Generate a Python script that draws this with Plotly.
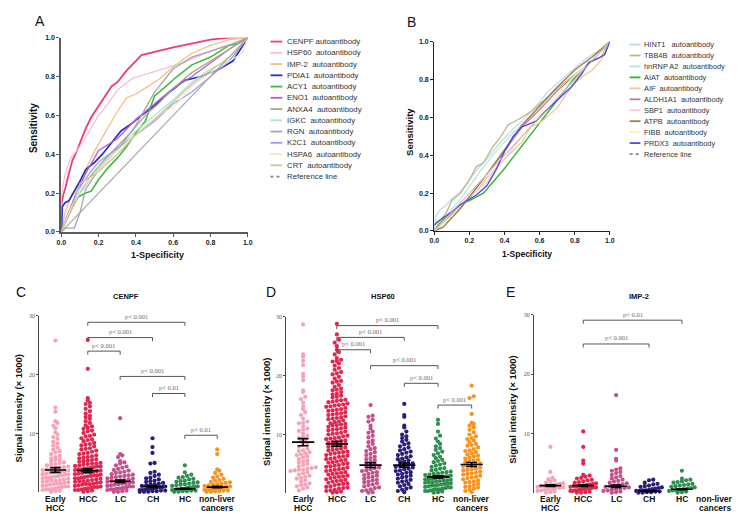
import plotly.graph_objects as go

W, H = 745, 514

# ---------------- ROC data, panel A ----------------
A_names = ["CENPF autoantibody", "HSP60  autoantibody", "IMP-2  autoantibody", "PDIA1  autoantibody",
           "ACY1  autoantibody", "ENO1  autoantibody", "ANXA4  autoantibody", "IGKC  autoantibody",
           "RGN  autoantibody", "K2C1  autoantibody", "HSPA6  autoantibody", "CRT  autoantibody"]
A_colors = ["#EE3B80", "#F9BDD9", "#F7BF88", "#2435C8", "#3DBB3D", "#B75BE0", "#AAA783",
            "#A9E3D9", "#A6A6A6", "#9C9CEE", "#FBE2C6", "#CBCB8E"]
A_widths = [1.8, 1.3, 1.3, 1.8, 1.6, 1.3, 1.3, 1.2, 1.3, 1.2, 1.2, 1.2]

cenpf_x = [0, 0, 0.01, 0.02, 0.04, 0.06, 0.08, 0.1, 0.13, 0.16, 0.2, 0.24, 0.27, 0.3, 0.35, 0.43, 0.6, 0.8, 0.9, 1.0]
cenpf_y = [0, 0.14, 0.19, 0.22, 0.3, 0.37, 0.41, 0.46, 0.53, 0.59, 0.65, 0.71, 0.75, 0.77, 0.83, 0.91, 0.95, 0.99, 1.0, 1.0]
hsp60_x = [0, 0, 0.02, 0.05, 0.1, 0.15, 0.2, 0.25, 0.3, 0.38, 0.45, 0.55, 0.65, 0.75, 0.85, 0.95, 1.0]
hsp60_y = [0, 0.18, 0.3, 0.38, 0.44, 0.52, 0.6, 0.66, 0.73, 0.79, 0.81, 0.84, 0.87, 0.91, 0.95, 0.98, 1.0]
imp2_x = [0, 0.02, 0.05, 0.1, 0.13, 0.18, 0.25, 0.3, 0.35, 0.4, 0.45, 0.53, 0.6, 0.7, 0.8, 0.9, 1.0]
imp2_y = [0, 0.1, 0.18, 0.27, 0.32, 0.42, 0.54, 0.62, 0.69, 0.71, 0.74, 0.79, 0.85, 0.92, 0.96, 0.99, 1.0]
pdia1_x = [0, 0.005, 0.02, 0.04, 0.07, 0.1, 0.13, 0.18, 0.22, 0.27, 0.32, 0.38, 0.43, 0.5, 0.58, 0.66, 0.75, 0.85, 0.92, 1.0]
pdia1_y = [0, 0.13, 0.15, 0.16, 0.21, 0.26, 0.32, 0.36, 0.4, 0.46, 0.52, 0.56, 0.6, 0.65, 0.72, 0.78, 0.8, 0.84, 0.88, 1.0]
acy1_x = [0, 0.02, 0.05, 0.09, 0.13, 0.16, 0.2, 0.25, 0.3, 0.35, 0.4, 0.45, 0.5, 0.55, 0.62, 0.7, 0.8, 0.9, 0.95, 1.0]
acy1_y = [0, 0.05, 0.12, 0.18, 0.2, 0.21, 0.27, 0.33, 0.38, 0.44, 0.51, 0.57, 0.7, 0.74, 0.8, 0.86, 0.9, 0.96, 0.97, 1.0]
eno1_x = [0, 0.03, 0.08, 0.13, 0.2, 0.25, 0.3, 0.35, 0.4, 0.5, 0.6, 0.7, 0.8, 0.9, 1.0]
eno1_y = [0, 0.08, 0.2, 0.3, 0.42, 0.45, 0.48, 0.53, 0.58, 0.66, 0.74, 0.8, 0.87, 0.94, 1.0]
anxa4_x = [0, 0.03, 0.1, 0.15, 0.22, 0.3, 0.38, 0.45, 0.52, 0.6, 0.7, 0.8, 0.9, 1.0]
anxa4_y = [0, 0.07, 0.2, 0.28, 0.36, 0.44, 0.52, 0.6, 0.66, 0.74, 0.82, 0.88, 0.94, 1.0]
igkc_x = [0, 0.05, 0.1, 0.2, 0.3, 0.4, 0.5, 0.6, 0.7, 0.8, 0.9, 1.0]
igkc_y = [0, 0.12, 0.2, 0.33, 0.43, 0.52, 0.6, 0.68, 0.77, 0.84, 0.88, 1.0]
rgn_x = [0, 0.02, 0.07, 0.1, 0.13, 0.2, 0.3, 0.4, 0.5, 0.6, 0.7, 0.8, 0.9, 1.0]
rgn_y = [0, 0.02, 0.02, 0.1, 0.22, 0.32, 0.42, 0.55, 0.72, 0.84, 0.9, 0.93, 0.96, 1.0]
k2c1_x = [0, 0.04, 0.1, 0.15, 0.2, 0.3, 0.4, 0.5, 0.6, 0.7, 0.8, 0.9, 1.0]
k2c1_y = [0, 0.1, 0.23, 0.3, 0.36, 0.43, 0.5, 0.57, 0.66, 0.72, 0.8, 0.88, 1.0]
hspa6_x = [0, 0.05, 0.1, 0.2, 0.3, 0.4, 0.5, 0.55, 0.6, 0.7, 0.8, 0.9, 0.97, 1.0]
hspa6_y = [0, 0.12, 0.22, 0.32, 0.42, 0.5, 0.58, 0.62, 0.64, 0.75, 0.82, 0.88, 0.92, 1.0]
crt_x = [0, 0.05, 0.1, 0.15, 0.2, 0.3, 0.4, 0.5, 0.6, 0.7, 0.8, 0.9, 1.0]
crt_y = [0, 0.1, 0.25, 0.28, 0.31, 0.4, 0.5, 0.58, 0.67, 0.76, 0.83, 0.9, 1.0]
A_curves = [(cenpf_x, cenpf_y), (hsp60_x, hsp60_y), (imp2_x, imp2_y), (pdia1_x, pdia1_y),
            (acy1_x, acy1_y), (eno1_x, eno1_y), (anxa4_x, anxa4_y), (igkc_x, igkc_y),
            (rgn_x, rgn_y), (k2c1_x, k2c1_y), (hspa6_x, hspa6_y), (crt_x, crt_y)]

ref_x = [0, 1]
ref_y = [0, 1]

# ---------------- ROC data, panel B ----------------
B_names = ["HINT1\u00a0\u00a0 autoantibody", "TBB4B  autoantibody", "hnRNP A2  autoantibody", "AIAT  autoantibody",
           "AIF  autoantibody", "ALDH1A1  autoantibody", "SBP1  autoantibody", "ATPB  autoantibody",
           "FIBB  autoantibody", "PRDX3  autoantibody"]
B_colors = ["#BBD9F0", "#C4B585", "#B5E8D8", "#33B533", "#F8C190", "#C67A98", "#F7C9E0", "#A27A52",
            "#F6F0C4", "#4F4FE0"]
B_widths = [1.2, 1.3, 1.2, 1.4, 1.2, 1.2, 1.2, 1.4, 1.2, 1.4]

hint1_x = [0, 0.01, 0.03, 0.06, 0.1, 0.15, 0.2, 0.25, 0.3, 0.35, 0.4, 0.45, 0.5, 0.55, 0.6, 0.65, 0.7, 0.75, 0.8, 0.85, 0.9, 0.95, 1.0]
hint1_y = [0, 0.08, 0.11, 0.13, 0.17, 0.21, 0.27, 0.33, 0.38, 0.44, 0.49, 0.54, 0.58, 0.63, 0.68, 0.74, 0.78, 0.82, 0.86, 0.9, 0.93, 0.96, 1.0]
tbb4b_x = [0, 0.03, 0.07, 0.1, 0.15, 0.2, 0.24, 0.28, 0.33, 0.38, 0.42, 0.48, 0.55, 0.65, 0.75, 0.85, 0.9, 0.95, 1.0]
tbb4b_y = [0, 0.05, 0.1, 0.16, 0.2, 0.27, 0.34, 0.36, 0.44, 0.5, 0.56, 0.59, 0.63, 0.71, 0.79, 0.86, 0.9, 0.92, 1.0]
hnrnp_x = [0, 0.05, 0.15, 0.25, 0.35, 0.45, 0.55, 0.65, 0.75, 0.85, 0.95, 1.0]
hnrnp_y = [0, 0.06, 0.17, 0.3, 0.42, 0.52, 0.6, 0.7, 0.78, 0.86, 0.95, 1.0]
aiat_x = [0, 0.05, 0.1, 0.15, 0.2, 0.24, 0.28, 0.4, 0.5, 0.6, 0.7, 0.8, 0.9, 1.0]
aiat_y = [0, 0.06, 0.1, 0.14, 0.16, 0.18, 0.2, 0.33, 0.45, 0.57, 0.69, 0.81, 0.9, 1.0]
aif_x = [0, 0.05, 0.1, 0.2, 0.3, 0.4, 0.5, 0.55, 0.6, 0.65, 0.7, 0.75, 0.8, 0.85, 0.9, 0.95, 1.0]
aif_y = [0, 0.04, 0.08, 0.17, 0.28, 0.38, 0.47, 0.55, 0.57, 0.61, 0.65, 0.72, 0.78, 0.82, 0.85, 0.9, 1.0]
aldh_x = [0, 0.05, 0.1, 0.2, 0.3, 0.4, 0.5, 0.6, 0.7, 0.8, 0.9, 1.0]
aldh_y = [0, 0.04, 0.09, 0.18, 0.3, 0.42, 0.55, 0.64, 0.74, 0.82, 0.9, 1.0]
sbp1_x = [0, 0.1, 0.2, 0.3, 0.4, 0.5, 0.6, 0.7, 0.8, 0.9, 1.0]
sbp1_y = [0, 0.1, 0.18, 0.26, 0.38, 0.5, 0.6, 0.7, 0.8, 0.9, 1.0]
atpb_x = [0, 0.05, 0.1, 0.15, 0.2, 0.3, 0.4, 0.5, 0.6, 0.7, 0.8, 0.9, 1.0]
atpb_y = [0, 0.02, 0.07, 0.12, 0.18, 0.3, 0.43, 0.56, 0.66, 0.76, 0.85, 0.92, 1.0]
fibb_x = [0, 0.1, 0.2, 0.3, 0.4, 0.5, 0.6, 0.7, 0.8, 0.9, 1.0]
fibb_y = [0, 0.08, 0.2, 0.3, 0.4, 0.5, 0.62, 0.72, 0.82, 0.9, 1.0]
prdx3_x = [0, 0.02, 0.05, 0.08, 0.1, 0.15, 0.2, 0.24, 0.3, 0.35, 0.4, 0.45, 0.5, 0.58, 0.63, 0.7, 0.78, 0.84, 0.88, 0.93, 0.97, 1.0]
prdx3_y = [0.03, 0.05, 0.07, 0.09, 0.1, 0.14, 0.17, 0.19, 0.24, 0.32, 0.42, 0.5, 0.55, 0.58, 0.63, 0.69, 0.76, 0.83, 0.89, 0.91, 0.93, 1.0]
B_curves = [(hint1_x, hint1_y), (tbb4b_x, tbb4b_y), (hnrnp_x, hnrnp_y), (aiat_x, aiat_y),
            (aif_x, aif_y), (aldh_x, aldh_y), (sbp1_x, sbp1_y), (atpb_x, atpb_y),
            (fibb_x, fibb_y), (prdx3_x, prdx3_y)]

# ---------------- scatter dot data ----------------
groups = [("Early", "HCC"), ("HCC", ""), ("LC", ""), ("CH", ""), ("HC", ""), ("non-liver", "cancers")]
group_colors = ["#F5A3B6", "#E3264F", "#C4508C", "#2B1D7A", "#2F8F4E", "#F7931E"]

C_early = [25.8, 14.4, 13.7, 12.1, 11.8, 11.3, 10.9, 10.2, 9.8, 9.4, 9.1, 8.6, 8.3, 8.0, 7.6, 7.3, 7.0, 6.8,
           6.5, 6.2, 6.0, 5.8, 5.6, 5.5, 5.3, 5.1, 5.0, 4.8, 4.7, 4.6, 4.4, 4.3, 4.2, 4.1, 4.0, 3.9, 3.8, 3.7,
           3.6, 3.5, 3.5, 3.4, 3.3, 3.2, 3.1, 3.0, 3.0, 2.9, 2.8, 2.7, 2.6, 2.5, 2.5, 2.4, 2.3, 2.2, 2.1, 2.0,
           2.0, 1.9, 1.8, 1.7, 1.6, 1.5, 1.5, 1.4, 1.3, 1.2, 1.1, 1.0, 1.0, 0.9, 0.8, 0.7, 0.6, 0.5, 0.5, 0.4,
           0.3, 0.2, 0.1]
C_hcc = [25.9, 21.0, 16.0, 15.6, 15.2, 15.0, 14.6, 14.2, 13.8, 13.4, 13.0, 12.5, 12.1, 11.8, 11.4, 11.0,
         10.8, 10.5, 10.1, 9.8, 9.5, 9.2, 9.0, 8.7, 8.4, 8.2, 8.0, 7.8, 7.5, 7.3, 7.1, 6.9, 6.7, 6.5, 6.3,
         6.1, 6.0, 5.8, 5.6, 5.5, 5.3, 5.2, 5.0, 4.9, 4.8, 4.7, 4.6, 4.5, 4.4, 4.3, 4.2, 4.1, 4.0, 3.9, 3.8,
         3.7, 3.6, 3.5, 3.4, 3.3, 3.2, 3.1, 3.0, 2.9, 2.8, 2.7, 2.6, 2.5, 2.4, 2.3, 2.2, 2.1, 2.0, 1.9, 1.8,
         1.7, 1.6, 1.5, 1.4, 1.3, 1.2, 1.1, 1.0, 0.9, 0.8, 0.7, 0.6, 0.5, 0.4, 0.3, 0.2, 0.1, 9.6, 8.9,
         8.1, 7.4, 6.6, 5.9, 5.4, 4.9, 4.4, 3.9, 3.4, 2.9, 2.4, 1.9, 1.4, 0.9, 0.4, 12.8, 11.2, 10.4]
C_lc = [12.6, 6.5, 6.3, 6.0, 5.3, 5.1, 4.9, 4.6, 4.4, 4.2, 4.0, 3.8, 3.7, 3.5, 3.4, 3.3, 3.1, 3.0, 2.9, 2.8,
        2.7, 2.6, 2.5, 2.4, 2.3, 2.2, 2.1, 2.0, 1.9, 1.9, 1.8, 1.7, 1.6, 1.5, 1.5, 1.4, 1.3, 1.2, 1.1, 1.0,
        1.0, 0.9, 0.8, 0.7, 0.6, 0.5, 0.5, 0.4, 0.3, 0.2, 0.1, 0.1]
C_ch = [9.2, 7.7, 6.7, 5.0, 4.9, 3.5, 3.3, 3.0, 2.8, 2.5, 2.4, 2.2, 2.0, 1.9, 1.8, 1.6, 1.5, 1.4, 1.3, 1.2,
        1.1, 1.0, 0.9, 0.9, 0.8, 0.7, 0.6, 0.6, 0.5, 0.4, 0.4, 0.3, 0.3, 0.2, 0.2, 0.1, 0.1, 0.1]
C_hc = [4.6, 3.4, 3.0, 2.8, 2.6, 2.5, 2.3, 2.2, 2.0, 1.9, 1.8, 1.7, 1.6, 1.5, 1.4, 1.3, 1.2, 1.1, 1.0, 1.0,
        0.9, 0.8, 0.8, 0.7, 0.6, 0.6, 0.5, 0.5, 0.4, 0.4, 0.3, 0.3, 0.2, 0.2, 0.1, 0.1]
C_non = [7.3, 6.5, 3.9, 3.7, 3.3, 3.0, 2.7, 2.5, 2.3, 2.1, 2.0, 1.8, 1.7, 1.6, 1.5, 1.4, 1.3, 1.2, 1.1, 1.0,
         0.9, 0.9, 0.8, 0.7, 0.7, 0.6, 0.5, 0.5, 0.4, 0.4, 0.3, 0.3, 0.2, 0.2, 0.1, 0.1]
C_mean = [3.8, 3.7, 1.9, 1.0, 0.6, 0.9]
C_sem = [0.4, 0.3, 0.2, 0.15, 0.08, 0.12]
C_brackets = [(1, 4, 28.9, "p< 0.001"), (1, 3, 26.3, "p< 0.001"), (1, 2, 24.0, "p< 0.001"),
              (2, 4, 19.7, "p< 0.001"), (3, 4, 16.8, "p< 0.01"), (4, 5, 9.7, "p< 0.01")]

D_early = [28.7, 23.6, 23.2, 22.5, 21.8, 20.3, 19.8, 19.2, 17.5, 17.2, 16.4, 16.0, 15.4, 14.8, 14.3, 13.8,
           13.3, 12.7, 12.2, 11.9, 11.4, 11.0, 10.6, 10.2, 9.8, 9.4, 9.1, 8.8, 8.5, 8.2, 7.9, 7.6, 7.3, 7.0,
           6.8, 6.6, 6.3, 6.1, 5.8, 5.6, 5.4, 5.2, 5.0, 4.8, 4.6, 4.4, 4.2, 4.0, 4.0, 3.8, 3.6, 3.4, 3.2, 3.0,
           2.8, 2.5, 2.2, 2.0, 1.7, 1.4, 1.2, 1.0, 0.8, 0.5, 12.0, 10.8, 9.6, 7.2, 6.5, 4.3, 3.9, 2.6, 1.5]
D_hcc = [28.8, 27.0, 26.1, 25.6, 25.0, 24.4, 24.0, 23.6, 23.0, 22.7, 22.5, 22.4, 22.1, 21.7, 21.3, 21.0,
         20.6, 20.4, 20.2, 19.8, 19.5, 19.1, 19.0, 18.8, 18.4, 18.1, 17.8, 17.6, 17.5, 17.2, 16.9, 16.8,
         16.6, 16.4, 16.3, 15.9, 15.8, 15.6, 15.5, 15.3, 15.1, 15.0, 14.8, 14.7, 14.5, 14.3, 14.1, 14.0,
         13.8, 13.6, 13.5, 13.3, 13.1, 12.9, 12.8, 12.6, 12.4, 12.2, 12.1, 11.9, 11.8, 11.7, 11.5, 11.3,
         11.2, 11.0, 10.8, 10.7, 10.5, 10.3, 10.2, 10.0, 9.8, 9.7, 9.5, 9.4, 9.2, 9.0, 8.9, 8.7, 8.6, 8.4,
         8.2, 8.1, 7.9, 7.8, 7.6, 7.4, 7.3, 7.1, 7.0, 6.8, 6.7, 6.5, 6.3, 6.2, 6.0, 5.9, 5.7, 5.6, 5.4,
         5.3, 5.1, 5.0, 4.8, 4.7, 4.5, 4.4, 4.2, 4.1, 3.9, 3.8, 3.6, 3.5, 3.3, 3.2, 3.0, 2.9, 2.7, 2.6,
         2.4, 2.3, 2.1, 2.0, 1.8, 1.7, 1.5, 1.4, 1.2, 1.1, 0.9, 0.8, 0.6, 0.5, 0.3, 0.2, 0.1, 15.7, 14.9,
         14.2, 13.4, 12.7, 11.6, 10.9, 10.1, 9.3, 8.8, 8.0, 7.5, 6.9, 6.4, 5.8, 5.2, 4.6, 4.0, 3.4, 2.8,
         2.2, 1.6, 1.0, 0.4]
D_lc = [15.0, 13.2, 13.0, 12.5, 12.2, 11.5, 11.0, 10.5, 10.3, 9.8, 9.5, 9.0, 8.7, 8.4, 8.0, 7.7, 7.5, 7.2,
        7.0, 6.7, 6.5, 6.2, 6.0, 5.8, 5.6, 5.4, 5.2, 5.0, 4.8, 4.6, 4.4, 4.3, 4.1, 3.9, 3.8, 3.6, 3.5, 3.3,
        3.1, 3.0, 2.8, 2.7, 2.5, 2.3, 2.2, 2.0, 1.9, 1.7, 1.5, 1.4, 1.2, 1.0, 0.9, 0.7, 0.5, 0.4, 0.2, 0.1]
D_ch = [15.2, 13.3, 13.0, 11.5, 11.2, 10.5, 10.0, 9.7, 9.4, 9.1, 8.8, 8.5, 8.3, 8.0, 7.8, 7.5, 7.3, 7.1,
        6.9, 6.7, 6.5, 6.3, 6.1, 5.9, 5.8, 5.6, 5.4, 5.3, 5.1, 5.0, 4.8, 4.7, 4.5, 4.4, 4.2, 4.1, 3.9, 3.8,
        3.6, 3.5, 3.3, 3.2, 3.0, 2.8, 2.7, 2.5, 2.3, 2.1, 2.0, 1.8, 1.6, 1.4, 1.2, 1.0, 0.8, 0.6, 0.4, 0.2]
D_hc = [12.5, 11.8, 10.5, 9.8, 9.3, 8.8, 8.4, 8.0, 7.7, 7.4, 7.1, 6.8, 6.5, 6.2, 6.0, 5.7, 5.5, 5.3, 5.1,
        4.9, 4.7, 4.5, 4.3, 4.2, 4.0, 3.9, 3.7, 3.6, 3.4, 3.3, 3.1, 3.0, 2.9, 2.8, 2.7, 2.6, 2.5, 2.4, 2.3,
        2.2, 2.1, 2.0, 1.9, 1.8, 1.7, 1.6, 1.5, 1.4, 1.3, 1.2, 1.1, 1.0, 0.9, 0.8, 0.7, 0.6, 0.5, 0.4, 0.3,
        0.2, 0.1, 2.8, 2.6, 2.9, 3.2, 3.5, 2.4, 2.2, 1.9, 1.6, 1.3, 1.0, 0.7, 0.4]
D_non = [18.3, 16.5, 16.2, 13.5, 12.0, 11.8, 11.5, 11.2, 10.8, 10.4, 10.0, 9.7, 9.4, 9.0, 8.7, 8.4, 8.1,
         7.8, 7.5, 7.3, 7.0, 6.8, 6.6, 6.3, 6.1, 5.9, 5.7, 5.5, 5.3, 5.1, 4.9, 4.7, 4.6, 4.4, 4.2, 4.0,
         3.9, 3.7, 3.5, 3.3, 3.2, 3.0, 2.8, 2.6, 2.4, 2.2, 2.0, 1.8, 1.6, 1.4, 1.2, 1.0, 0.8, 0.6, 0.4, 0.2,
         9.2, 8.2, 7.2, 6.4, 5.6, 4.8, 4.1, 3.4, 2.7, 1.9, 1.1]
D_mean = [8.7, 8.4, 4.8, 4.8, 2.8, 4.9]
D_sem = [0.6, 0.4, 0.4, 0.35, 0.2, 0.35]
D_brackets = [(1, 4, 28.5, "p< 0.001"), (1, 3, 26.5, "p< 0.001"), (1, 2, 24.4, "p< 0.001"),
              (2, 4, 21.7, "p< 0.001"), (3, 4, 18.7, "p< 0.001"), (4, 5, 15.0, "p< 0.001")]

E_early = [7.8, 3.6, 2.6, 2.4, 2.2, 2.0, 1.8, 1.7, 1.6, 1.5, 1.4, 1.3, 1.2, 1.1, 1.0, 0.9, 0.8, 0.7, 0.6,
           0.5, 0.4, 0.3, 0.2, 0.1, 1.2, 1.4, 0.9]
E_hcc = [10.4, 7.8, 5.5, 5.0, 3.1, 3.0, 2.8, 2.6, 2.5, 2.3, 2.2, 2.0, 1.9, 1.8, 1.7, 1.6, 1.5, 1.4, 1.3, 1.3,
         1.2, 1.1, 1.0, 1.0, 0.9, 0.8, 0.7, 0.7, 0.6, 0.5, 0.4, 0.4, 0.3, 0.2, 0.1, 0.1, 1.2, 0.8, 0.5]
E_lc = [16.5, 7.3, 5.8, 5.5, 4.2, 4.0, 3.8, 3.6, 3.4, 3.1, 2.9, 2.7, 2.5, 2.3, 2.1, 2.0, 1.8, 1.7, 1.5, 1.4,
        1.3, 1.2, 1.1, 1.0, 0.9, 0.8, 0.7, 0.6, 0.5, 0.4, 0.3, 0.2, 0.1]
E_ch = [2.3, 2.2, 1.8, 1.6, 1.5, 1.3, 1.2, 1.1, 1.0, 0.9, 0.8, 0.7, 0.6, 0.5, 0.5, 0.4, 0.4, 0.3, 0.3, 0.2,
        0.2, 0.1, 0.1]
E_hc = [3.8, 2.5, 2.3, 2.2, 2.0, 1.9, 1.8, 1.6, 1.5, 1.4, 1.3, 1.2, 1.1, 1.0, 0.9, 0.8, 0.7, 0.6, 0.5, 0.5,
        0.4, 0.3, 0.2, 0.1]
E_non = []
E_mean = [1.3, 1.3, 1.2, 0.4, 0.7, None]
E_sem = [0.15, 0.12, 0.2, 0.08, 0.08, None]
E_brackets = [(1, 4, 29.1, "p< 0.01"), (1, 3, 25.1, "p< 0.001")]

# ---------------- layout helpers ----------------
def fx(px):
    return px / W

def fy(py):
    return 1 - py / H

SANS = "Arial, Liberation Sans, sans-serif"
SERIF = "Liberation Serif, DejaVu Serif, serif"

fig = go.Figure()

# ROC panels
for (cx, cy), col, wd in zip(A_curves, A_colors, A_widths):
    fig.add_trace(go.Scatter(x=cx, y=cy, mode="lines", line=dict(color=col, width=wd),
                             xaxis="x", yaxis="y", showlegend=False, hoverinfo="skip"))
fig.add_trace(go.Scatter(x=ref_x, y=ref_y, mode="lines", line=dict(color="#A8A8A8", width=1.2),
                         xaxis="x", yaxis="y", showlegend=False))
for (cx, cy), col, wd in zip(B_curves, B_colors, B_widths):
    fig.add_trace(go.Scatter(x=cx, y=cy, mode="lines", line=dict(color=col, width=wd),
                             xaxis="x2", yaxis="y2", showlegend=False, hoverinfo="skip"))
fig.add_trace(go.Scatter(x=ref_x, y=ref_y, mode="lines", line=dict(color="#B0B0B0", width=1.0),
                         xaxis="x2", yaxis="y2", showlegend=False))


def swarm(vals, center, ppc, binh=0.68):
    dx = 4.3 / ppc
    maxhalf = 13.0 / ppc
    bins = {}
    for v in sorted(vals):
        bins.setdefault(int(round(v / binh)), []).append(v)
    xs, ys = [], []
    for k in sorted(bins):
        row = bins[k]
        n = len(row)
        sp = dx if n <= 1 else min(dx, 2 * maxhalf / (n - 1))
        for j, v in enumerate(row):
            xs.append(center + (j - (n - 1) / 2) * sp)
            ys.append(v)
    return xs, ys


def dot_panel(data, means, sems, brackets, xa, ya, ppc):
    for i, (vals, col) in enumerate(zip(data, group_colors)):
        if not vals:
            continue
        xs, ys = swarm(vals, i, ppc)
        fig.add_trace(go.Scatter(x=xs, y=ys, mode="markers",
                                 marker=dict(color=col, size=4.2, line=dict(width=0)),
                                 xaxis=xa, yaxis=ya, showlegend=False, cliponaxis=False))
    lx, ly = [], []
    for i, (m, s) in enumerate(zip(means, sems)):
        if m is None:
            continue
        lx += [i - 0.33, i + 0.33, None, i, i, None, i - 0.16, i + 0.16, None, i - 0.16, i + 0.16, None]
        ly += [m, m, None, m - s, m + s, None, m + s, m + s, None, m - s, m - s, None]
    fig.add_trace(go.Scatter(x=lx, y=ly, mode="lines", line=dict(color="black", width=1.6),
                             xaxis=xa, yaxis=ya, showlegend=False, cliponaxis=False))
    bx, by = [], []
    for a, b, yv, txt in brackets:
        bx += [a, a, b, b, None]
        by += [yv - 0.6, yv, yv, yv - 0.6, None]
        fig.add_annotation(x=(a + b) / 2, y=yv, xref=xa, yref=ya, text=txt, showarrow=False,
                           yanchor="bottom", yshift=0.5,
                           font=dict(family=SERIF, size=6.5, color="#6a6a6a"))
    fig.add_trace(go.Scatter(x=bx, y=by, mode="lines", line=dict(color="#555555", width=1),
                             xaxis=xa, yaxis=ya, showlegend=False, cliponaxis=False))
    # category labels under the panel (two separate lines for tight spacing)
    for i, (l1, l2) in enumerate(groups):
        for line_txt, ypx in ((l1, 493.5), (l2, 503)):
            if not line_txt:
                continue
            fig.add_annotation(x=i, y=fy(ypx), xref=xa, yref="paper", text="<b>%s</b>" % line_txt,
                               showarrow=False, yanchor="middle", borderpad=0,
                               font=dict(family=SANS, size=8.5, color="#111"))


C_dom = (26.6, 223.4)
D_dom = (277, 482)
E_dom = (528, 728)
dot_panel([C_early, C_hcc, C_lc, C_ch, C_hc, C_non], C_mean, C_sem, C_brackets, "x3", "y3",
          (C_dom[1] - C_dom[0]) / 6)
dot_panel([D_early, D_hcc, D_lc, D_ch, D_hc, D_non], D_mean, D_sem, D_brackets, "x4", "y4",
          (D_dom[1] - D_dom[0]) / 6)
dot_panel([E_early, E_hcc, E_lc, E_ch, E_hc, E_non], E_mean, E_sem, E_brackets, "x5", "y5",
          (E_dom[1] - E_dom[0]) / 6)

# ---------------- axes ----------------
roc_tick = dict(family=SANS, size=7, color="#222")
roc_ticks = [0, 0.2, 0.4, 0.6, 0.8, 1.0]
roc_text = ["0.0", "0.2", "0.4", "0.6", "0.8", "1.0"]


def roc_axis(dom, line_col, lw, anchor):
    return dict(domain=dom, range=[0, 1], showgrid=False, zeroline=False, showline=True,
                linecolor=line_col, linewidth=lw, ticks="outside", ticklen=3, tickwidth=1,
                tickcolor=line_col, tickvals=roc_ticks, ticktext=["<b>%s</b>" % t for t in roc_text],
                tickfont=roc_tick, anchor=anchor, fixedrange=True)


def dot_x(dom, anchor):
    return dict(domain=[fx(dom[0]), fx(dom[1])], range=[-0.5, 5.5], showgrid=False, zeroline=False,
                showline=False, showticklabels=False, ticks="", anchor=anchor)


def dot_y(top, bot, anchor):
    return dict(domain=[fy(bot), fy(top)], range=[0, 30], showgrid=False, zeroline=False,
                showline=True, linecolor="#444", linewidth=1, ticks="outside", ticklen=2,
                tickcolor="#444", tickvals=[10, 20, 30], ticktext=["10", "20", "30"],
                tickfont=dict(family=SERIF, size=6, color="#555"), anchor=anchor)


fig.update_layout(
    width=W, height=H, autosize=False, margin=dict(l=0, r=0, t=0, b=0),
    paper_bgcolor="white", plot_bgcolor="white", showlegend=False,
    xaxis=roc_axis([fx(49), fx(238)], "#5a5a5a", 2, "y"),
    yaxis=roc_axis([fy(223), fy(26)], "#5a5a5a", 2, "x"),
    xaxis2=roc_axis([fx(427), fx(605)], "#222", 1.2, "y2"),
    yaxis2=roc_axis([fy(222), fy(30)], "#222", 1.2, "x2"),
    xaxis3=dot_x(C_dom, "y3"), yaxis3=dot_y(308, 487, "x3"),
    xaxis4=dot_x(D_dom, "y4"), yaxis4=dot_y(309, 488, "x4"),
    xaxis5=dot_x(E_dom, "y5"), yaxis5=dot_y(307, 488, "x5"),
)

# ---------------- legends (drawn manually) ----------------
def legend(names, colors, x_line0, x_line1, x_text, y0, step, fsize):
    for i, (nm, col) in enumerate(zip(names + ["Reference line"], colors + ["#888888"])):
        yy = fy(y0 + i * step)
        fig.add_shape(type="line", xref="paper", yref="paper", x0=fx(x_line0), x1=fx(x_line1),
                      y0=yy, y1=yy, line=dict(color=col, width=1.8,
                                              dash="dot" if nm == "Reference line" else "solid"))
        fig.add_annotation(x=fx(x_text), y=yy, xref="paper", yref="paper", text=nm.replace("  ", "\u00a0 "),
                           showarrow=False, xanchor="left", yanchor="middle",
                           font=dict(family=SANS, size=fsize, color="#333"))


legend(A_names, A_colors, 261, 273, 276, 30, 11.4, 7.8)
legend(B_names, B_colors, 625, 636, 638, 33, 11.1, 7.4)

# ---------------- titles / labels ----------------
def txt(x, y, s, size, bold=False, angle=0, family=SANS, color="#111"):
    fig.add_annotation(x=fx(x), y=fy(y), xref="paper", yref="paper", text=("<b>%s</b>" % s) if bold else s,
                       showarrow=False, textangle=angle, xanchor="center", yanchor="middle",
                       font=dict(family=family, size=size, color=color))


txt(27.5, 9, "A", 14)
txt(404, 10, "B", 14)
txt(8, 284, "C", 14)
txt(262, 284, "D", 14)
txt(504, 284, "E", 14)

txt(21, 118, "Sensitivity", 10, bold=True, angle=-90)
txt(146.5, 246, "1-Specificity", 9, bold=True)
txt(402, 122, "Sensitivity", 9.5, bold=True, angle=-90)
txt(521, 245, "1-Specificity", 8.5, bold=True)

txt(115, 288, "CENPF", 7.5, bold=True)
txt(375, 288, "HSP60", 7.5, bold=True)
txt(635, 288, "IMP-2", 7.5, bold=True)

txt(6, 401, "Signal intensity (\u00d7 1000)", 9.5, bold=True, angle=-90)
txt(257, 405, "Signal intensity (\u00d7 1000)", 9.5, bold=True, angle=-90)
txt(506, 403, "Signal intensity (\u00d7 1000)", 9.5, bold=True, angle=-90)

fig.write_html("out.html")
